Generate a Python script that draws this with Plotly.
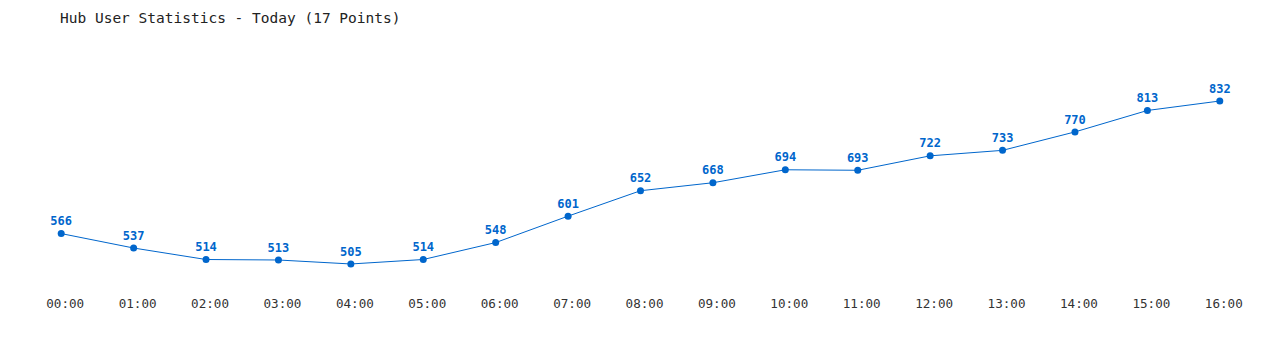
import plotly.graph_objects as go

hours = ["00:00", "01:00", "02:00", "03:00", "04:00", "05:00", "06:00", "07:00", "08:00",
         "09:00", "10:00", "11:00", "12:00", "13:00", "14:00", "15:00", "16:00"]
users = [566, 537, 514, 513, 505, 514, 548, 601, 652, 668, 694, 693, 722, 733, 770, 813, 832]

x_idx = list(range(len(hours)))

fig = go.Figure()
fig.add_trace(go.Scatter(
    x=x_idx, y=users,
    mode="lines+markers+text",
    line=dict(color="#0066cc", width=1),
    marker=dict(color="#0066cc", size=7),
    text=[str(v) for v in users],
    textposition="top center",
    textfont=dict(family="DejaVu Sans Mono", size=12, color="#0066cc", weight="bold"),
    cliponaxis=False,
    hoverinfo="x+y",
))

fig.update_layout(
    width=1280, height=350,
    paper_bgcolor="white", plot_bgcolor="white",
    margin=dict(l=25, r=24, t=40, b=60),
    showlegend=False,
    title=dict(text="Hub User Statistics - Today (17 Points)",
               x=60/1280, xanchor="left", y=1 - 18/350, yanchor="middle",
               font=dict(family="DejaVu Sans Mono", size=14.5, color="#222222")),
    xaxis=dict(range=[-0.5, 16.5], tickmode="array", tickvals=x_idx, ticktext=hours,
               showgrid=False, zeroline=False, showline=False, ticks="",
               ticklabelshift=4, ticklabelstandoff=4,
               tickfont=dict(family="DejaVu Sans Mono", size=12.6, color="#333333")),
    yaxis=dict(range=[452.8, 954.4], visible=False, showgrid=False, zeroline=False),
)

fig.write_html("out.html")
